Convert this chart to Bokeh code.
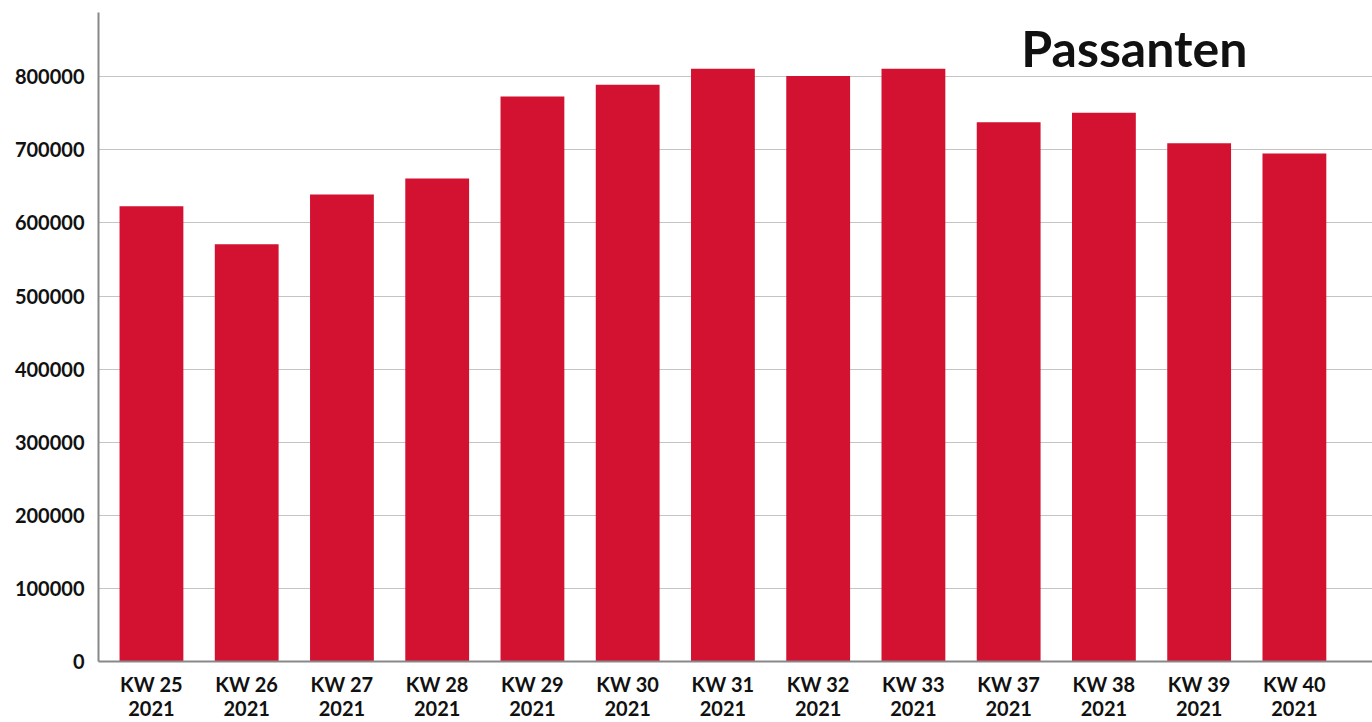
from bokeh.plotting import figure
from bokeh.models import FixedTicker, Range1d, Label, ColumnDataSource
from bokeh.embed import file_html
from bokeh.resources import INLINE

weeks = ["KW 25", "KW 26", "KW 27", "KW 28", "KW 29", "KW 30", "KW 31",
         "KW 32", "KW 33", "KW 37", "KW 38", "KW 39", "KW 40"]
year = "2021"
passanten = [623000, 571000, 639000, 661000, 773000, 789000, 811000,
             801000, 811000, 738000, 751000, 709000, 695000]
y_ticks = [0, 100000, 200000, 300000, 400000, 500000, 600000, 700000, 800000]
title_text = "Passanten"

xs = list(range(len(weeks)))
src = ColumnDataSource(dict(x=xs, top=passanten))

p = figure(width=1372, height=722, output_backend="svg", toolbar_location=None,
           x_range=Range1d(-0.556, 12.82), y_range=Range1d(0, 888000),
           min_border_left=98, min_border_right=0, min_border_top=12, min_border_bottom=53)
p.outline_line_color = None
p.background_fill_color = "white"
p.border_fill_color = "white"

p.vbar(x="x", top="top", width=0.67, bottom=0, source=src,
       fill_color="#d31130", line_color=None)

font = "Lato"
p.xaxis.ticker = FixedTicker(ticks=xs)
p.xaxis.major_label_overrides = {i: f"{w}\n{year}" for i, w in enumerate(weeks)}
p.yaxis.ticker = FixedTicker(ticks=y_ticks)
p.yaxis.formatter.use_scientific = False

for ax in (p.xaxis, p.yaxis):
    ax.major_tick_line_color = None
    ax.minor_tick_line_color = None
    ax.major_label_text_font = font
    ax.major_label_text_font_style = "bold"
    ax.major_label_text_font_size = "20px"
    ax.major_label_text_color = "#111111"
    ax.axis_line_color = "#888888"
    ax.axis_line_width = 2

p.xaxis.major_label_text_line_height = 1.0
p.xaxis.major_label_standoff = 4
p.yaxis.major_label_standoff = 8

p.xgrid.grid_line_color = None
p.ygrid.grid_line_color = "#c4c4c4"
p.ygrid.grid_line_width = 1

p.add_layout(Label(x=10.32, y=839000, text=title_text, text_font=font,
                   text_font_style="bold", text_font_size="50px",
                   text_align="center", text_baseline="alphabetic", text_color="#111111"))

open("out.html", "w").write(file_html(p, INLINE))
